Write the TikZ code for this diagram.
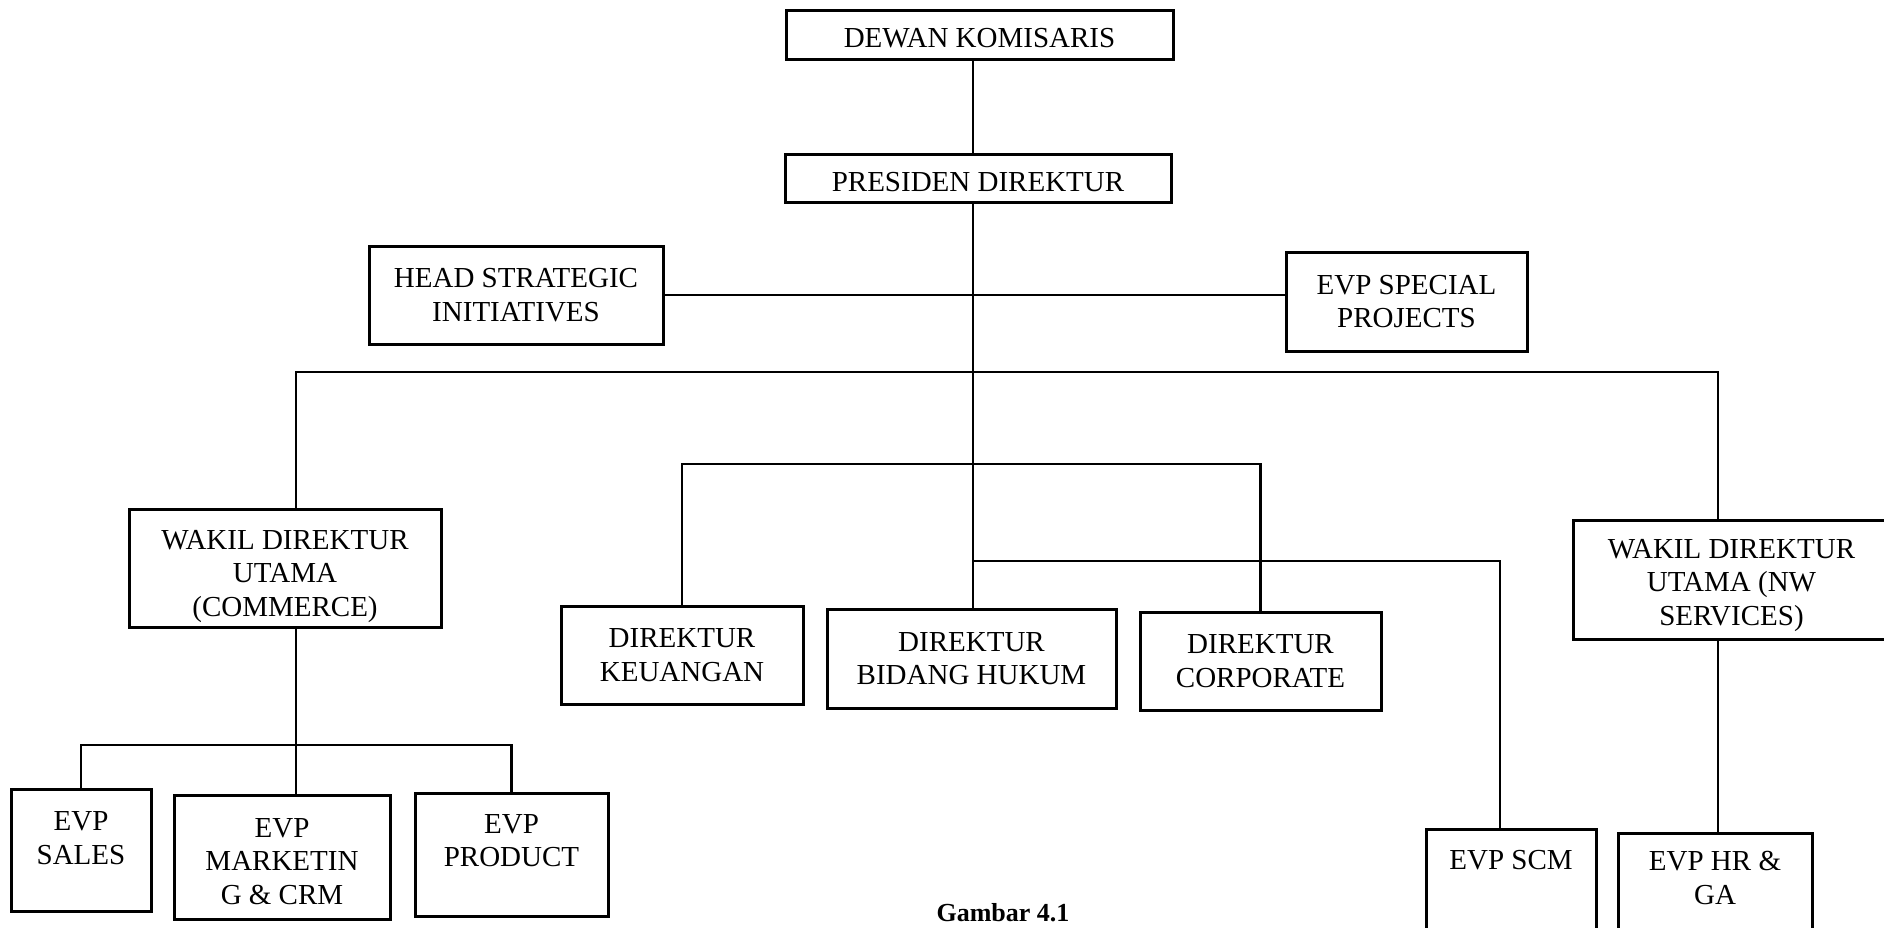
\documentclass[tikz,border=0pt]{standalone}
\usepackage{fontspec}
\setmainfont{Liberation Serif}
\begin{document}
\begin{tikzpicture}[x=1pt,y=-1pt,
  box/.style={draw=black, line width=3pt, rectangle, align=center, inner sep=0pt,
    font=\fontsize{29}{33.5}\selectfont},
  conn/.style={draw=black, line width=2.4pt}]
\useasboundingbox (0,0) rectangle (1884,927);
\fill[white] (0,0) rectangle (1884,927);
\clip (0,0) rectangle (1884,927);

\node[box, minimum width=387pt, minimum height=49pt] (dk) at (979.5,34.5) {\rule{0pt}{27pt}DEWAN KOMISARIS};
\node[box, minimum width=386pt, minimum height=48pt] (pd) at (978,178) {\rule{0pt}{27pt}PRESIDEN DIREKTUR};
\node[box, minimum width=294pt, minimum height=98pt] (hsi) at (516,295) {HEAD STRATEGIC\\INITIATIVES};
\node[box, minimum width=241pt, minimum height=99pt] (evpsp) at (1406.5,301.5) {EVP SPECIAL\\PROJECTS};
\node[box, minimum width=312pt, minimum height=118pt] (wdc) at (285,568) {\rule{0pt}{36pt}WAKIL DIREKTUR\\UTAMA\\(COMMERCE)};
\node[box, minimum width=317pt, minimum height=119pt] (wdn) at (1731.5,579.5) {\rule{0pt}{31pt}WAKIL DIREKTUR\\UTAMA (NW\\SERVICES)};
\node[box, minimum width=242pt, minimum height=98pt] (dkeu) at (682,655) {DIREKTUR\\KEUANGAN};
\node[box, minimum width=289pt, minimum height=99pt] (dbh) at (971.5,658.5) {DIREKTUR\\BIDANG HUKUM};
\node[box, minimum width=241pt, minimum height=98pt] (dcorp) at (1260.5,661) {DIREKTUR\\CORPORATE};
\node[box, minimum width=140pt, minimum height=122pt] (evpsales) at (81,850) {EVP\\SALES\rule[-24pt]{0pt}{24pt}};
\node[box, minimum width=216pt, minimum height=124pt] (evpmkt) at (282,857) {\rule{0pt}{28pt}EVP\\MARKETIN\\G \& CRM};
\node[box, minimum width=193pt, minimum height=123pt] (evpprod) at (511.5,854.5) {EVP\\PRODUCT\rule[-28pt]{0pt}{28pt}};
\node[box, minimum width=170pt, minimum height=106pt] (evpscm) at (1511,882) {EVP SCM\rule[-44pt]{0pt}{44pt}};
\node[box, minimum width=194pt, minimum height=102pt] (evphr) at (1715,884) {EVP HR \&\\GA\rule[-12pt]{0pt}{12pt}};

\node[anchor=base, inner sep=0pt, font=\fontsize{26}{30}\selectfont\bfseries] (cap) at (1003,921) {Gambar 4.1};

\coordinate (t) at (973,0);
\coordinate (busL) at (296,372);
\coordinate (busR) at (1718,372);
\coordinate (mb) at (0,464);
\coordinate (sb) at (1500,561);
\coordinate (cb) at (0,745);

\draw[conn] (dk.south -| t) -- (pd.north -| t);
\draw[conn] (pd.south -| t) -- (dbh.north -| t);
\draw[conn] (hsi.east) -- (hsi.east -| evpsp.west);
\draw[conn] (wdc.north -| busL) -- (busL) -- (busR) -- (wdn.north -| busR);
\draw[conn] (dkeu.north) -- (dkeu.north |- mb) -- (dcorp.north |- mb) -- (dcorp.north);
\draw[conn] (t |- sb) -- (sb) -- (evpscm.north -| sb);
\draw[conn] (wdn.south -| busR) -- (evphr.north -| busR);
\draw[conn] (wdc.south -| busL) -- (evpmkt.north -| busL);
\draw[conn] (evpsales.north) -- (evpsales.north |- cb) -- (evpprod.north |- cb) -- (evpprod.north);
\end{tikzpicture}
\end{document}
